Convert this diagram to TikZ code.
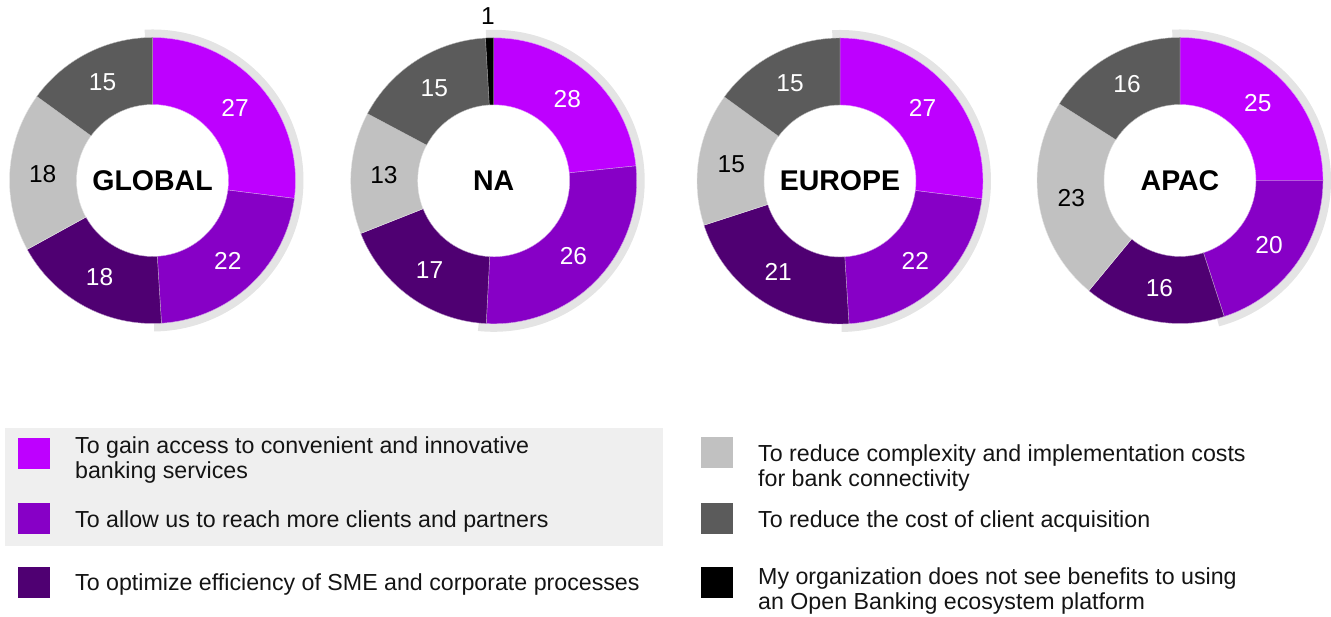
\documentclass[tikz,border=0pt]{standalone}
\usepackage{fontspec}
\setmainfont{Liberation Sans}
\definecolor{pA}{HTML}{BE00FF}
\definecolor{pB}{HTML}{8700C6}
\definecolor{pC}{HTML}{4F0072}
\definecolor{gL}{HTML}{C1C1C1}
\definecolor{gD}{HTML}{5B5B5B}
\definecolor{gS}{HTML}{E4E4E4}
\definecolor{legbg}{HTML}{EFEFEF}
\newcommand\dseg[3]{\fill[#1, draw=white!60!#1, line width=0.4pt] (#2:143) arc[start angle=#2, end angle=#3, radius=143] -- (#3:76) arc[start angle=#3, end angle=#2, radius=76] -- cycle;}
\newcommand\dshadow[2]{\fill[gS] (#1:151) arc[start angle=#1, end angle=#2, radius=151] -- (#2:120) arc[start angle=#2, end angle=#1, radius=120] -- cycle;}
\newcommand\dlab[5]{\node[#1] (#2) at ({(#3+(#4))/2}:110) {#5};}
\begin{document}
\begin{tikzpicture}[x=1pt,y=1pt,
  numw/.style={text=white, font=\fontsize{24.5}{26}\selectfont, inner sep=0pt},
  numk/.style={numw, text=black},
  ctr/.style={font=\fontsize{28.5}{30}\selectfont\bfseries, inner sep=0pt},
  legsq/.style={minimum width=32pt, minimum height=31pt, inner sep=0pt, anchor=center},
  legtx/.style={anchor=west, align=left, inner sep=0pt, font=\fontsize{23.2}{25}\selectfont, text=black!92}]
\useasboundingbox (0,0) rectangle (1331,617);

% GLOBAL
\begin{scope}[shift={(152.5,436.5)}]
\dshadow{93}{-89.4}
\dseg{pA}{90}{-7.2}
\dseg{pB}{-7.2}{-86.4}
\dseg{pC}{-86.4}{-151.2}
\dseg{gL}{-151.2}{-216}
\dseg{gD}{-216}{-270}
\node[ctr] (gl) at (0,0) {GLOBAL};
\dlab{numw}{g1}{90}{-7.2}{27}
\dlab{numw}{g2}{-7.2}{-86.4}{22}
\dlab{numw}{g3}{-86.4}{-151.2}{18}
\dlab{numk}{g4}{-151.2}{-216}{18}
\dlab{numw}{g5}{-216}{-270}{15}
\end{scope}

% NA
\begin{scope}[shift={(493.7,436.2)}]
\dshadow{93}{-96}
\dseg{pA}{90}{6}
\dseg{pB}{6}{-93}
\dseg{pC}{-93}{-158.4}
\dseg{gL}{-158.4}{-208}
\dseg{gD}{-208}{-266.7}
\dseg{black}{-266.7}{-270}
\node[ctr] (na) at (0,0) {NA};
\dlab{numw}{n1}{90}{6}{28}
\dlab{numw}{n2}{6}{-93}{26}
\dlab{numw}{n3}{-93}{-158.4}{17}
\dlab{numk}{n4}{-158.4}{-208}{13}
\dlab{numw}{n5}{-208}{-266.7}{15}
\node[numk] (n6) at (-5.7,165) {1};
\end{scope}

% EUROPE
\begin{scope}[shift={(840,436)}]
\dshadow{93}{-89.4}
\dseg{pA}{90}{-7.2}
\dseg{pB}{-7.2}{-86.4}
\dseg{pC}{-86.4}{-162}
\dseg{gL}{-162}{-216}
\dseg{gD}{-216}{-270}
\node[ctr] (eu) at (0,0) {EUROPE};
\dlab{numw}{e1}{90}{-7.2}{27}
\dlab{numw}{e2}{-7.2}{-86.4}{22}
\dlab{numw}{e3}{-86.4}{-162}{21}
\dlab{numk}{e4}{-162}{-216}{15}
\dlab{numw}{e5}{-216}{-270}{15}
\end{scope}

% APAC
\begin{scope}[shift={(1180,436.5)}]
\dshadow{93}{-75}
\dseg{pA}{90}{0}
\dseg{pB}{0}{-72}
\dseg{pC}{-72}{-129.6}
\dseg{gL}{-129.6}{-212.4}
\dseg{gD}{-212.4}{-270}
\node[ctr] (ap) at (0,0) {APAC};
\dlab{numw}{a1}{90}{0}{25}
\dlab{numw}{a2}{0}{-72}{20}
\dlab{numw}{a3}{-72}{-129.6}{16}
\dlab{numk}{a4}{-129.6}{-212.4}{23}
\dlab{numw}{a5}{-212.4}{-270}{16}
\end{scope}

% Legend
\fill[legbg] (5,71) rectangle (663,189);
\node[legsq, fill=pA] (s1) at (34,163.5) {};
\node[legsq, fill=pB] (s2) at (34,98) {};
\node[legsq, fill=pC] (s3) at (34,34) {};
\node[legsq, fill=gL] (s4) at (717,164) {};
\node[legsq, fill=gD] (s5) at (717,98) {};
\node[legsq, fill=black] (s6) at (717,34) {};
\node[legtx] (t1) at (75,156.5) {To gain access to convenient and innovative\\banking services};
\node[legtx] (t2) at (75,95) {To allow us to reach more clients and partners};
\node[legtx] (t3) at (75,32) {To optimize efficiency of SME and corporate processes};
\node[legtx] (t4) at (758,149) {To reduce complexity and implementation costs\\for bank connectivity};
\node[legtx] (t5) at (758,95) {To reduce the cost of client acquisition};
\node[legtx] (t6) at (758,25.5) {My organization does not see benefits to using\\an Open Banking ecosystem platform};
\end{tikzpicture}
\end{document}
